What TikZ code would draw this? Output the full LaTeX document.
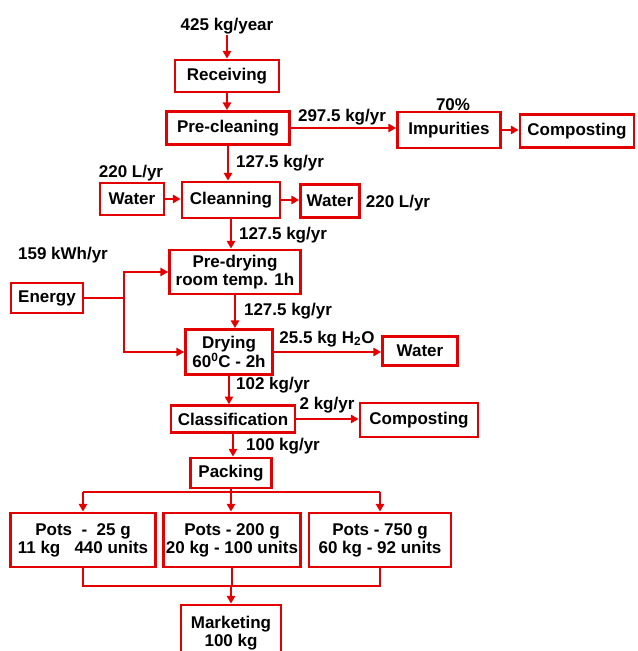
\documentclass[tikz,border=0pt]{standalone}
\usepackage{fontspec}
\setmainfont{Liberation Sans}
\usetikzlibrary{arrows.meta}
\definecolor{flowred}{RGB}{228,0,0}
\begin{document}
\begin{tikzpicture}[
  box/.style={draw=flowred,line width=2.4pt,inner sep=0pt,align=center,
    font=\fontsize{14.5}{15.5}\selectfont\bfseries},
  lbl/.style={inner sep=1pt,font=\fontsize{14.5}{15.5}\selectfont\bfseries},
  conn/.style={flowred,line width=1.6pt},
  arr/.style={conn,-{Triangle[length=6.5pt,width=7pt]}}]
\useasboundingbox (0,0) rectangle (19.14,19.53);
\clip (0,0) rectangle (19.14,19.53);

% main line
\node[lbl] (in) at (6.81,18.75) {425 kg/year};
\node[box,minimum width=3.12cm,minimum height=0.96cm] (recv) at (6.81,17.25) {Receiving};
\node[box,minimum width=3.69cm,minimum height=0.99cm] (precl) at (6.84,15.69) {Pre-cleaning};
\node[box,minimum width=2.94cm,minimum height=1.08cm] (clean) at (6.93,13.53) {Cleanning};
\node[box,minimum width=3.93cm,minimum height=1.32cm] (predry) at (7.05,11.37) {Pre-drying\\room temp. 1h};
\node[box,minimum width=2.61cm,minimum height=1.35cm] (dry) at (6.87,8.97) {Drying\\60\textsuperscript{0}C - 2h};
\node[box,minimum width=3.72cm,minimum height=0.80cm] (classif) at (6.99,6.96) {Classification};
\node[box,minimum width=2.43cm,minimum height=0.90cm] (pack) at (6.93,5.34) {Packing};
\node[box,minimum width=4.35cm,minimum height=1.62cm] (pot1) at (2.49,3.33) {Pots\ \ -\ \ 25 g\\11 kg\ \ \ 440 units};
\node[box,minimum width=4.11cm,minimum height=1.62cm] (pot2) at (6.96,3.33) {Pots - 200 g\\20 kg - 100 units};
\node[box,minimum width=4.26cm,minimum height=1.62cm] (pot3) at (11.40,3.33) {Pots - 750 g\\60 kg - 92 units};
\node[box,minimum width=3.00cm,minimum height=1.68cm] (mkt) at (6.93,0.54) {Marketing\\100 kg};

% side boxes
\node[box,minimum width=3.09cm,minimum height=1.08cm] (impur) at (13.47,15.63) {Impurities};
\node[box,minimum width=3.42cm,minimum height=0.99cm] (comp1) at (17.31,15.60) {Composting};
\node[box,minimum width=1.92cm,minimum height=0.96cm] (watin) at (3.96,13.56) {Water};
\node[box,minimum width=1.77cm,minimum height=0.99cm] (watout) at (9.90,13.50) {Water};
\node[box,minimum width=2.16cm,minimum height=0.90cm] (energy) at (1.41,10.59) {Energy};
\node[box,minimum width=2.25cm,minimum height=0.87cm] (watdry) at (12.60,9.00) {Water};
\node[box,minimum width=3.54cm,minimum height=1.02cm] (comp2) at (12.57,6.93) {Composting};

% flow labels
\node[lbl] (l2975) at (10.26,16.02) {297.5 kg/yr};
\node[lbl] (l70) at (13.59,16.38) {70\%};
\node[lbl] (l1275a) at (8.40,14.64) {127.5 kg/yr};
\node[lbl] (l220a) at (3.93,14.34) {220 L/yr};
\node[lbl] (l220b) at (11.94,13.44) {220 L/yr};
\node[lbl] (l1275b) at (8.49,12.48) {127.5 kg/yr};
\node[lbl] (l159) at (1.89,11.88) {159 kWh/yr};
\node[lbl] (l1275c) at (8.64,10.20) {127.5 kg/yr};
\node[lbl] (l255) at (9.81,9.36) {25.5 kg H\textsubscript{2}O};
\node[lbl] (l102) at (8.19,7.98) {102 kg/yr};
\node[lbl] (l2) at (9.81,7.38) {2 kg/yr};
\node[lbl] (l100) at (8.49,6.15) {100 kg/yr};

% connectors
\draw[arr] (in.south) -- (recv.north);
\draw[arr] (recv.south) -- (recv.south |- precl.north);
\draw[arr] (precl.south) -- (precl.south |- clean.north);
\draw[arr] (clean.south) -- (clean.south |- predry.north);
\draw[arr] (predry.south) -- (predry.south |- dry.north);
\draw[arr] (dry.south) -- (dry.south |- classif.north);
\draw[arr] (classif.south) -- (classif.south |- pack.north);

\draw[arr] (precl.east) -- (precl.east -| impur.west);
\draw[arr] (impur.east) -- (impur.east -| comp1.west);
\draw[arr] (watin.east) -- (watin.east -| clean.west);
\draw[arr] (clean.east) -- (clean.east -| watout.west);
\draw[arr] (dry.east) -- (dry.east -| watdry.west);
\draw[arr] (classif.east) -- (classif.east -| comp2.west);

\coordinate (trunk) at (3.72,10.59);
\draw[conn] (energy.east) -- (trunk);
\draw[arr] (trunk) |- (predry.west);
\draw[arr] (trunk) |- (dry.west);

\coordinate (split) at (6.93,4.77);
\draw[conn] (pot1.north |- split) -- (pot3.north |- split);
\draw[arr] (pack.south) -- (pack.south |- pot2.north);
\draw[arr] (pot1.north |- split) -- (pot1.north);
\draw[arr] (pot3.north |- split) -- (pot3.north);

\coordinate (merge) at (6.93,1.95);
\draw[conn] (pot1.south) -- (pot1.south |- merge) -- (pot3.south |- merge) -- (pot3.south);
\draw[conn] (pot2.south) -- (pot2.south |- merge);
\draw[arr] (mkt.north |- merge) -- (mkt.north);
\end{tikzpicture}
\end{document}
